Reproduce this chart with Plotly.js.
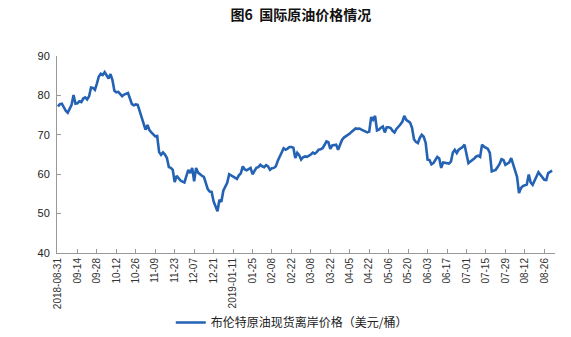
<!DOCTYPE html>
<html>
<head>
<meta charset="utf-8">
<script src="https://cdn.plot.ly/plotly-3.0.1.min.js"></script>
<style>html,body{margin:0;padding:0;background:#fff;}#chart{width:571px;height:337px;}</style>
</head>
<body>
<div id="chart"></div>
<script>
// Brent crude spot price (USD/barrel), trading days from 2018-08-31
const brentPrices = [
  77.2, 77.8, 77.9, 77.0, 76.1, 75.6, 76.5, 77.6, 80.1, 77.9,
  78.0, 78.5, 78.3, 79.2, 79.5, 79.0, 79.8, 82.0, 81.9, 81.4,
  83.0, 84.8, 85.5, 85.2, 85.9, 84.9, 84.3, 85.4, 83.9, 81.2,
  80.8, 80.9, 80.4, 79.8, 80.2, 80.5, 80.6, 79.2, 77.8, 77.5,
  77.7, 77.6, 76.0, 74.4, 72.6, 71.3, 72.5, 71.2, 70.6, 70.0,
  69.6, 69.7, 65.6, 64.9, 65.5, 65.0, 64.1, 61.8, 61.6, 61.1,
  58.0, 59.6, 59.0, 58.4, 58.1, 57.9, 59.5, 61.1, 60.3, 61.6,
  58.2, 61.6, 60.4, 59.9, 59.6, 59.3, 58.0, 56.2, 55.6, 55.5,
  53.1, 51.9, 50.6, 53.5, 53.0, 55.8, 57.0, 57.8, 60.0, 59.7,
  59.3, 59.0, 58.8, 59.7, 60.2, 62.0, 61.2, 61.0, 61.3, 61.6,
  60.0, 60.9, 61.6, 61.8, 62.4, 62.0, 61.8, 62.3, 62.0, 61.1,
  61.5, 61.6, 62.0, 63.4, 64.3, 65.5, 66.6, 66.2, 66.5, 66.9,
  66.9, 66.7, 64.1, 65.4, 64.8, 63.7, 64.3, 64.5, 64.4, 64.6,
  65.0, 65.5, 65.2, 65.6, 66.2, 66.3, 66.6, 67.4, 68.3, 68.1,
  66.4, 67.3, 67.5, 67.5, 66.2, 67.6, 68.7, 69.3, 69.6, 69.8,
  70.3, 70.8, 71.2, 71.6, 71.5, 71.6, 71.3, 71.1, 70.9, 70.6,
  70.8, 74.5, 73.8, 74.8, 71.1, 71.3, 71.8, 72.1, 70.6, 71.9,
  71.9, 71.7, 71.0, 70.6, 71.5, 72.0, 72.6, 73.3, 74.8, 73.8,
  73.5, 73.1, 71.8, 68.9, 68.2, 67.9, 69.2, 70.0, 69.5, 68.0,
  63.7, 63.6, 62.5, 62.8, 63.6, 64.4, 64.0, 61.6, 63.0, 62.9,
  62.8, 62.7, 63.2, 65.5, 66.2, 65.4, 66.2, 66.5, 66.9, 67.5,
  64.8, 62.8, 63.2, 63.5, 64.0, 64.5, 64.7, 64.4, 67.5, 67.0,
  66.6, 66.4, 65.4, 60.7, 60.9, 61.1, 61.8, 62.6, 63.8, 63.6,
  62.4, 62.6, 63.0, 64.1, 62.6, 60.7, 59.3, 55.2, 56.5, 57.0,
  57.3, 57.4, 59.9, 57.9, 57.3, 58.6, 59.4, 60.5, 59.9, 59.3,
  58.6, 58.5, 60.3, 60.6, 60.9
];

// Tick labels, one every 10 trading days
const tickLabels = [
  "2018-08-31", "09-14", "09-28", "10-12", "10-26", "11-09", "11-23", "12-07", "12-21",
  "2019-01-11", "01-25", "02-08", "02-22", "03-08", "03-22", "04-05", "04-22", "05-06",
  "05-20", "06-03", "06-17", "07-01", "07-15", "07-29", "08-12", "08-26"
];
const tickStep = 10;

const seriesName = "布伦特原油现货离岸价格（美元/桶）";
const chartTitle = "图6  国际原油价格情况";

const xIdx = brentPrices.map((_, i) => i);
const tickVals = tickLabels.map((_, i) => i * tickStep);

const fontFam = "Arial, 'Liberation Sans', 'Noto Sans CJK SC', sans-serif";

Plotly.newPlot("chart", [{
  type: "scatter",
  mode: "lines",
  x: xIdx,
  y: brentPrices,
  name: seriesName,
  line: {color: "#2462b4", width: 2.6},
  hoverinfo: "y"
}], {
  width: 571,
  height: 337,
  margin: {l: 57, r: 16, t: 56, b: 84, autoexpand: false},
  paper_bgcolor: "#ffffff",
  plot_bgcolor: "#ffffff",
  font: {family: fontFam, color: "#222"},
  title: {
    text: "<b>" + chartTitle + "</b>",
    font: {family: "'Noto Sans CJK SC', sans-serif", size: 14, color: "#111"},
    xref: "container", x: 0.527, xanchor: "center",
    yref: "container", y: 0.955, yanchor: "middle"
  },
  xaxis: {
    range: [-0.5, 255.5],
    tickmode: "array",
    tickvals: tickVals,
    ticktext: tickLabels,
    tickangle: -90,
    tickfont: {size: 10, color: "#333", family: fontFam},
    ticks: "inside",
    ticklen: 4,
    tickcolor: "#999",
    showline: true,
    linecolor: "#999",
    linewidth: 1,
    showgrid: false,
    zeroline: false,
    automargin: false,
    fixedrange: true
  },
  yaxis: {
    range: [40, 90],
    dtick: 10,
    tick0: 40,
    tickfont: {size: 11, color: "#222", family: fontFam},
    ticks: "inside",
    ticklen: 4,
    tickcolor: "#999",
    showline: true,
    linecolor: "#999",
    linewidth: 1,
    showgrid: false,
    zeroline: false,
    ticklabelstandoff: 4,
    automargin: false,
    fixedrange: true
  },
  showlegend: true,
  legend: {
    orientation: "h",
    xref: "container",
    x: 0.511, xanchor: "center",
    yref: "container",
    y: 0.0, yanchor: "bottom",
    font: {family: "'Noto Sans CJK SC', sans-serif", size: 12, color: "#222"},
    bgcolor: "rgba(0,0,0,0)"
  }
}, {displayModeBar: false, staticPlot: true});
</script>
</body>
</html>
